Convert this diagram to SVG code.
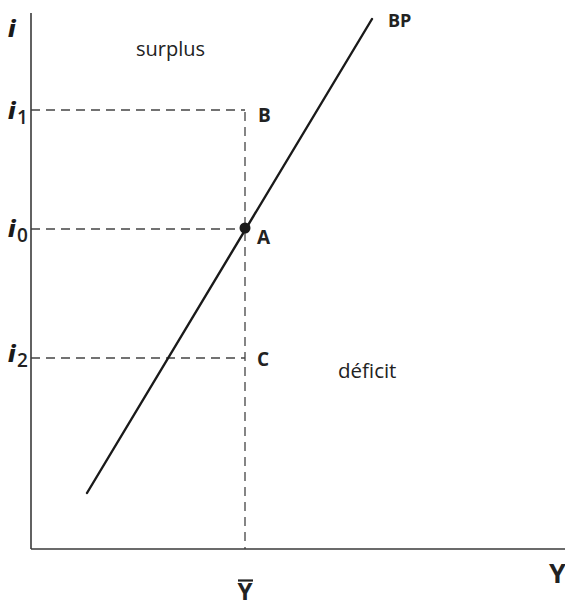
<svg xmlns="http://www.w3.org/2000/svg" width="565" height="603" viewBox="0 0 565 603">
<style>
.axis{stroke:#3a3a3a;stroke-width:1.6;fill:none}
.dash{stroke:#444;stroke-width:1.3;stroke-dasharray:9 6;fill:none}
.curve{stroke:#1a1a1a;stroke-width:2.4;fill:none;stroke-linecap:round}
.lbl{font-family:"Open Sans","Liberation Sans",sans-serif;fill:#222}
.b{font-weight:bold}
.ax{font-family:"Open Sans","Liberation Sans",sans-serif;font-weight:800;font-style:italic;font-size:23px;fill:#1a1a1a}
.sub{font-family:"Open Sans","Liberation Sans",sans-serif;font-style:normal;font-weight:600;font-size:19px;fill:#222}
</style>
<rect width="565" height="603" fill="#fff"/>
<g id="connectors">
<line class="dash" x1="31" y1="110" x2="245" y2="110"/>
<line class="dash" x1="31" y1="229" x2="245" y2="229"/>
<line class="dash" x1="31" y1="358" x2="245" y2="358"/>
<line class="dash" x1="245" y1="112" x2="245" y2="549"/>
<line class="curve" x1="87" y1="493" x2="372" y2="19"/>
</g>
<g id="axes">
<line class="axis" x1="31" y1="13" x2="31" y2="549"/>
<line class="axis" x1="31" y1="549" x2="565" y2="549"/>
</g>
<g id="point-A">
<circle cx="245" cy="228" r="5.5" fill="#1a1a1a"/>
</g>
<g id="labels">
<text class="ax" x="8" y="37">i</text>
<text class="ax" x="8" y="119">i</text><text class="sub" x="17" y="124">1</text>
<text class="ax" x="8" y="237">i</text><text class="sub" x="17" y="242">0</text>
<text class="ax" x="8" y="362">i</text><text class="sub" x="17" y="367">2</text>
<text class="lbl" x="136" y="56" font-size="20">surplus</text>
<text class="lbl b" x="258" y="122" font-size="19">B</text>
<text class="lbl b" x="257" y="244" font-size="19">A</text>
<text class="lbl b" x="257" y="366" font-size="19">C</text>
<text class="lbl" x="338" y="378" font-size="20.5">déficit</text>
<text class="lbl b" x="388" y="27" font-size="18">BP</text>
<text class="lbl b" x="549" y="583" font-size="27">Y</text>
<text class="lbl b" x="237.5" y="600" font-size="24">Y</text>
<line x1="238" y1="580.5" x2="253" y2="580.5" stroke="#222" stroke-width="2.2"/>
</g>
</svg>
